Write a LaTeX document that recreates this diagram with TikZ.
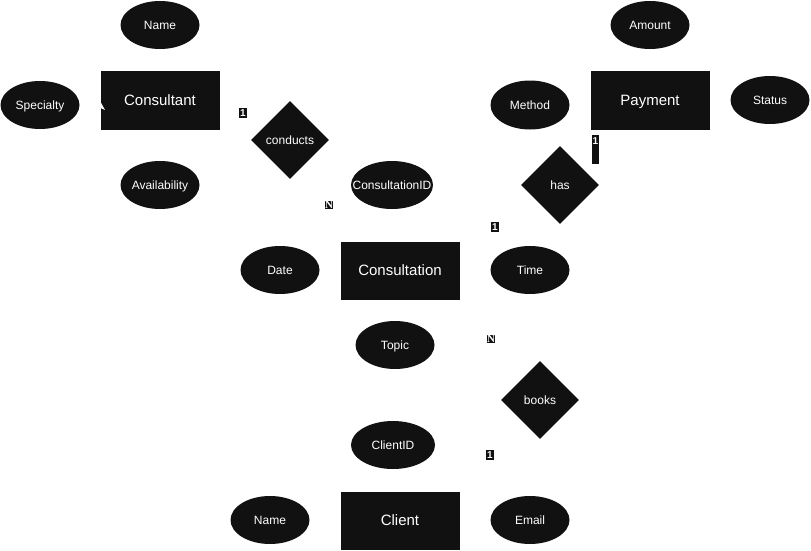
\documentclass[tikz,border=0pt]{standalone}
\usepackage{fontspec}
\setmainfont{Liberation Sans}
\newfontfamily\serifN{Liberation Serif}
\usetikzlibrary{shapes.geometric}
\definecolor{ink}{HTML}{111111}
\newcommand\zw[1]{\makebox[0pt]{#1}}
\tikzset{
  entity/.style={rectangle, fill=ink, text=white, minimum width=119pt, minimum height=58pt, inner sep=0pt, text height=10.7pt, text depth=0pt, font=\fontsize{15}{16}\selectfont},
  attr/.style={ellipse, fill=ink, text=white, minimum width=79pt, minimum height=48pt, inner sep=0pt, text height=8.6pt, text depth=0pt, font=\fontsize{12}{13}\selectfont},
  rel/.style={diamond, fill=ink, text=white, minimum width=78pt, minimum height=78pt, inner sep=0pt, text height=8.6pt, text depth=0pt, font=\fontsize{12}{13}\selectfont},
  lab/.style={rectangle, fill=ink, text=white, inner xsep=1pt, inner ysep=2pt, font=\bfseries\fontsize{10}{11}\selectfont},
  labn/.style={rectangle, fill=ink, text=white, inner sep=0.5pt, font=\serifN\bfseries\fontsize{11}{12}\selectfont}
}
\begin{document}
\begin{tikzpicture}[x=1pt, y=-1pt]
\useasboundingbox (0,0) rectangle (811,551);
% entities
\node[entity] (consultant) at (160,100.5) {Consultant};
\node[entity] (consultation) at (400,270.5) {Consultation};
\node[entity] (client) at (400,520.5) {Client};
\node[entity] (payment) at (650,100.5) {Payment};
% attributes
\node[attr] (cname) at (160,25) {\zw{Name}};
\node[attr] (specialty) at (40,105) {\zw{Specialty}};
\node[attr] (avail) at (160,185) {\zw{Availability}};
\node[attr, minimum width=82pt] (cid) at (392,185) {\zw{ConsultationID}};
\node[attr] (date) at (280,270) {\zw{Date}};
\node[attr] (time) at (530,270) {\zw{Time}};
\node[attr] (topic) at (395,345) {\zw{Topic}};
\node[attr, minimum width=84pt] (clid) at (393,445) {\zw{ClientID}};
\node[attr] (clname) at (270,520) {\zw{Name}};
\node[attr] (email) at (530,520) {\zw{Email}};
\node[attr] (amount) at (650,25) {\zw{Amount}};
\node[attr, minimum height=49pt] (method) at (530,105) {\zw{Method}};
\node[attr] (status) at (770,100) {\zw{Status}};
% relationships
\node[rel] (conducts) at (290,140) {\zw{conducts}};
\node[rel] (has) at (560,185) {\zw{has}};
\node[rel] (books) at (540,400) {\zw{books}};
% cardinality labels
\node[lab] (l1) at (243,113) {1};
\node[labn] (l2) at (329,205) {N};
\node[lab, anchor=north] (l3) at (595.5,134.5) {\raisebox{0pt}[8pt][17pt]{1}};
\node[lab] (l4) at (495,227) {1};
\node[labn] (l5) at (491,339) {N};
\node[lab] (l6) at (490,455) {1};
% arrow tip notch
\fill[white] (100,101) -- (100.5,108) -- (105,110) -- cycle;
\end{tikzpicture}
\end{document}
